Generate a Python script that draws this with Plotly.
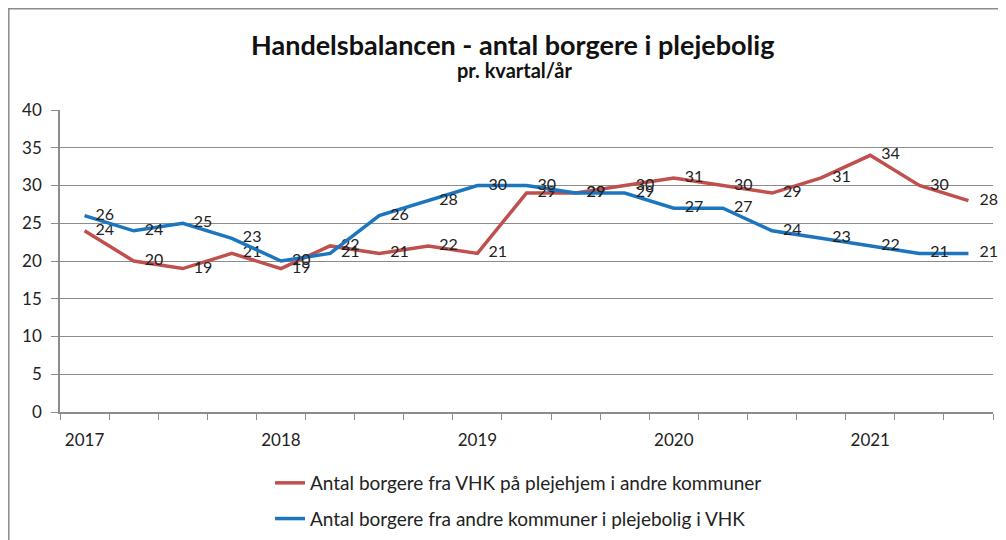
import plotly.graph_objects as go

quarters = [f"{y} K{q}" for y in range(2017, 2022) for q in range(1, 5)][:19]
year_ticks = ["2017", "2018", "2019", "2020", "2021"]
red_name = "Antal borgere fra VHK på plejehjem i andre kommuner"
blue_name = "Antal borgere fra andre kommuner i plejebolig i VHK"
red_vals = [24, 20, 19, 21, 19, 22, 21, 22, 21, 29, 29, 30, 31, 30, 29, 31, 34, 30, 28]
blue_vals = [26, 24, 25, 23, 20, 21, 26, 28, 30, 30, 29, 29, 27, 27, 24, 23, 22, 21, 21]

x = list(range(len(quarters)))
FONT = "Lato"

fig = go.Figure()
for name, vals, color, grp in [(red_name, red_vals, "#C0504D", "a"), (blue_name, blue_vals, "#1B76BF", "b")]:
    fig.add_trace(go.Scatter(
        x=x, y=vals, name=name, mode="lines+markers+text",
        text=[str(v) for v in vals], textposition="middle right",
        textfont=dict(family=FONT, size=16, color="#222222"),
        line=dict(color=color, width=3.5),
        marker=dict(size=16, color="rgba(0,0,0,0)", line=dict(width=0)),
        customdata=quarters, hoverinfo="skip", legendgroup=grp,
        cliponaxis=False,
    ))

# page offset (body margin) = 8px
OFF = 8
W, H = 990, 532
L = 60 - OFF
T = 110 - OFF
R = W - (993 - OFF)
B = H - (412 - OFF)
pw, ph = W - L - R, H - T - B

def px_x(p):  # page pixel -> paper
    return (p - OFF - L) / pw

def px_y(p):
    return (H - B - (p - OFF)) / ph

fig.update_layout(
    width=W, height=H,
    margin=dict(l=L, r=R, t=T, b=B, autoexpand=False),
    paper_bgcolor="white", plot_bgcolor="white",
    font=dict(family=FONT, color="#222222"),
    showlegend=True,
    legend=dict(x=px_x(270), y=px_y(464), xanchor="left", yanchor="top",
                font=dict(family=FONT, size=19, color="#222222"),
                traceorder="grouped", tracegroupgap=8, itemwidth=30,
                bgcolor="rgba(0,0,0,0)"),
    xaxis=dict(range=[-0.5, len(x) - 0.5], tickmode="array",
               tickvals=[0, 4, 8, 12, 16], ticktext=year_ticks,
               ticks="", showgrid=False, showline=True, linecolor="#8c8c8c", linewidth=1.5,
               tickfont=dict(family=FONT, size=17, color="#222222"),
               ticklabelstandoff=12, automargin=False,
               minor=dict(ticks="outside", tick0=-0.5, dtick=1, ticklen=6, tickcolor="#8c8c8c", showgrid=False),
               zeroline=False, fixedrange=True),
    yaxis=dict(range=[0, 40], tickmode="linear", tick0=0, dtick=5,
               ticks="outside", ticklen=7, tickcolor="#8c8c8c",
               showgrid=True, gridcolor="#8c8c8c", gridwidth=1,
               showline=True, linecolor="#8c8c8c", linewidth=1.5,
               tickfont=dict(family=FONT, size=17, color="#222222"),
               ticklabelstandoff=6, automargin=False,
               zeroline=False, fixedrange=True),
    annotations=[
        dict(text="<b>Handelsbalancen - antal borgere i plejebolig</b>", xref="paper", yref="paper",
             x=px_x(512), y=px_y(44), xanchor="center", yanchor="middle", showarrow=False,
             font=dict(family=FONT, size=27, color="#111111")),
        dict(text="<b>pr. kvartal/år</b>", xref="paper", yref="paper",
             x=px_x(514), y=px_y(70), xanchor="center", yanchor="middle", showarrow=False,
             font=dict(family=FONT, size=20, color="#111111")),
    ],
    shapes=[
        dict(type="line", xref="paper", yref="paper", x0=px_x(8.8), x1=px_x(8.8), y0=px_y(8), y1=px_y(560),
             line=dict(color="#8c8c8c", width=1.5)),
        dict(type="line", xref="paper", yref="paper", x0=px_x(8), x1=px_x(1020), y0=px_y(8.8), y1=px_y(8.8),
             line=dict(color="#8c8c8c", width=1.5)),
    ],
)

fig.write_html("out.html")
